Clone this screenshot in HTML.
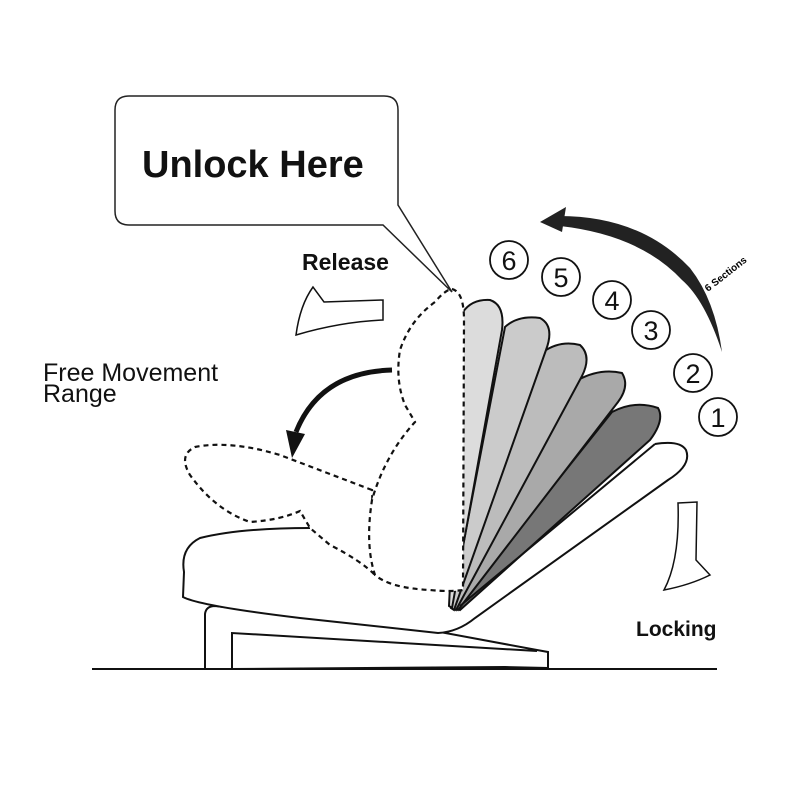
<!DOCTYPE html>
<html><head><meta charset="utf-8"><style>
html,body{margin:0;padding:0;background:#fff;}
svg{display:block;}
text{font-family:"Liberation Sans",sans-serif;}
</style></head><body>
<svg width="790" height="790" viewBox="0 0 790 790" xmlns="http://www.w3.org/2000/svg">
<rect width="790" height="790" fill="#fff"/>
<!-- ground -->
<line x1="92" y1="669" x2="717" y2="669" stroke="#111" stroke-width="2"/>
<!-- legs -->
<path d="M205,669 L205,614 Q206,606 215,606 L440,632 L537,650 L548,652 L548,668 L505,667 L232,669 L232,633 L537,651" fill="#fff" stroke="#111" stroke-width="2"/>
<line x1="205" y1="669" x2="232" y2="669" stroke="#111" stroke-width="2"/>
<!-- seat cushion -->
<path d="M310,528 Q240,528 200,538 Q180,548 184,572 L183,597 Q200,606 300,618 L438,633 Q458,632 475,618 L668,480 Q692,465 686,450 Q680,440 660,444 L460,600 L400,540 Z" fill="#fff" stroke="none"/>
<path d="M310,528 Q240,528 200,538 Q180,548 184,572 L183,597 Q200,606 300,618 L438,633 Q458,632 475,618 L668,480 Q692,465 686,450 Q680,440 655,444" fill="none" stroke="#111" stroke-width="2"/>
<!-- petals -->
<path d="M456,608 L612,412 Q635,400 658,408 Q665,420 650,440 L460,610 Z" fill="#777" stroke="#111" stroke-width="2"/>
<path d="M455,608 L578,380 Q600,368 622,373 Q630,386 618,402 L458,610 Z" fill="#a9a9a9" stroke="#111" stroke-width="2"/>
<path d="M453,608 L543,352 Q560,340 580,345 Q592,356 582,376 L456,610 Z" fill="#bcbcbc" stroke="#111" stroke-width="2"/>
<path d="M451,608 L505,327 Q518,315 540,318 Q555,326 546,350 L454,610 Z" fill="#cbcbcb" stroke="#111" stroke-width="2"/>
<path d="M449,606 L463,312 Q472,299 490,300 Q505,305 502,330 L452,608 Z" fill="#dcdcdc" stroke="#111" stroke-width="2"/>
<line x1="460" y1="606" x2="655" y2="444" stroke="#111" stroke-width="2"/>
<!-- dashed shapes -->
<g fill="#fff" stroke="#111" stroke-width="2.2" stroke-dasharray="5,4">
<path d="M372,490 L280,455 Q230,440 195,447 Q178,455 190,475 Q215,510 250,522 Q280,520 300,511 L310,528 L330,545 Q360,560 375,575 Z"/>
<path d="M452,289 Q464,292 464,320 L463,590 Q450,592 430,590 Q390,588 375,575 Q365,545 372,500 Q385,455 415,422 L405,405 Q395,380 400,350 Q410,320 435,302 Q445,290 452,289 Z"/>
</g>
<!-- free movement arc -->
<path d="M392,370 Q320,372 296,432" fill="none" stroke="#111" stroke-width="5"/>
<path d="M286,430 L305,434 L292,458 Z" fill="#111"/>
<!-- release arrow -->
<path d="M296,335 Q300,305 313,287 L324,302 L383,300 L383,320 Q340,322 296,335 Z" fill="#fff" stroke="#111" stroke-width="1.5"/>
<!-- locking arrow -->
<path d="M678,503 L697,502 L696,560 L710,575 Q690,585 664,590 Q680,560 678,503 Z" fill="#fff" stroke="#111" stroke-width="1.5"/>
<!-- big arc arrow -->
<path d="M556,216 Q640,215 690,268 Q715,300 722,352 Q705,300 682,280 Q640,235 560,226 Z" fill="#222"/>
<path d="M540,222 L566,207 L562,232 Z" fill="#222"/>
<text x="0" y="0" font-size="10" font-weight="bold" transform="translate(708,292) rotate(-38)">6 Sections</text>
<!-- numbered circles -->
<g fill="#fff" stroke="#111" stroke-width="1.8">
<circle cx="509" cy="260" r="19"/><circle cx="561" cy="277" r="19"/><circle cx="612" cy="300" r="19"/>
<circle cx="651" cy="330" r="19"/><circle cx="693" cy="373" r="19"/><circle cx="718" cy="417" r="19"/>
</g>
<g font-size="27" text-anchor="middle" fill="#111">
<text x="509" y="270">6</text><text x="561" y="287">5</text><text x="612" y="310">4</text>
<text x="651" y="340">3</text><text x="693" y="383">2</text><text x="718" y="427">1</text>
</g>
<!-- callout -->
<path d="M129,96 L384,96 Q398,96 398,110 L398,205 L452,292 L383,225 L129,225 Q115,225 115,211 L115,110 Q115,96 129,96 Z" fill="#fff" stroke="#222" stroke-width="1.5"/>
<text x="142" y="177" font-size="38" font-weight="bold" fill="#111">Unlock Here</text>
<text x="302" y="270" font-size="23" font-weight="bold" fill="#111">Release</text>
<text x="43" y="381" font-size="25" fill="#111">Free Movement</text>
<text x="43" y="402" font-size="25" fill="#111">Range</text>
<text x="636" y="636" font-size="21" font-weight="bold" fill="#111">Locking</text>
</svg>
</body></html>
